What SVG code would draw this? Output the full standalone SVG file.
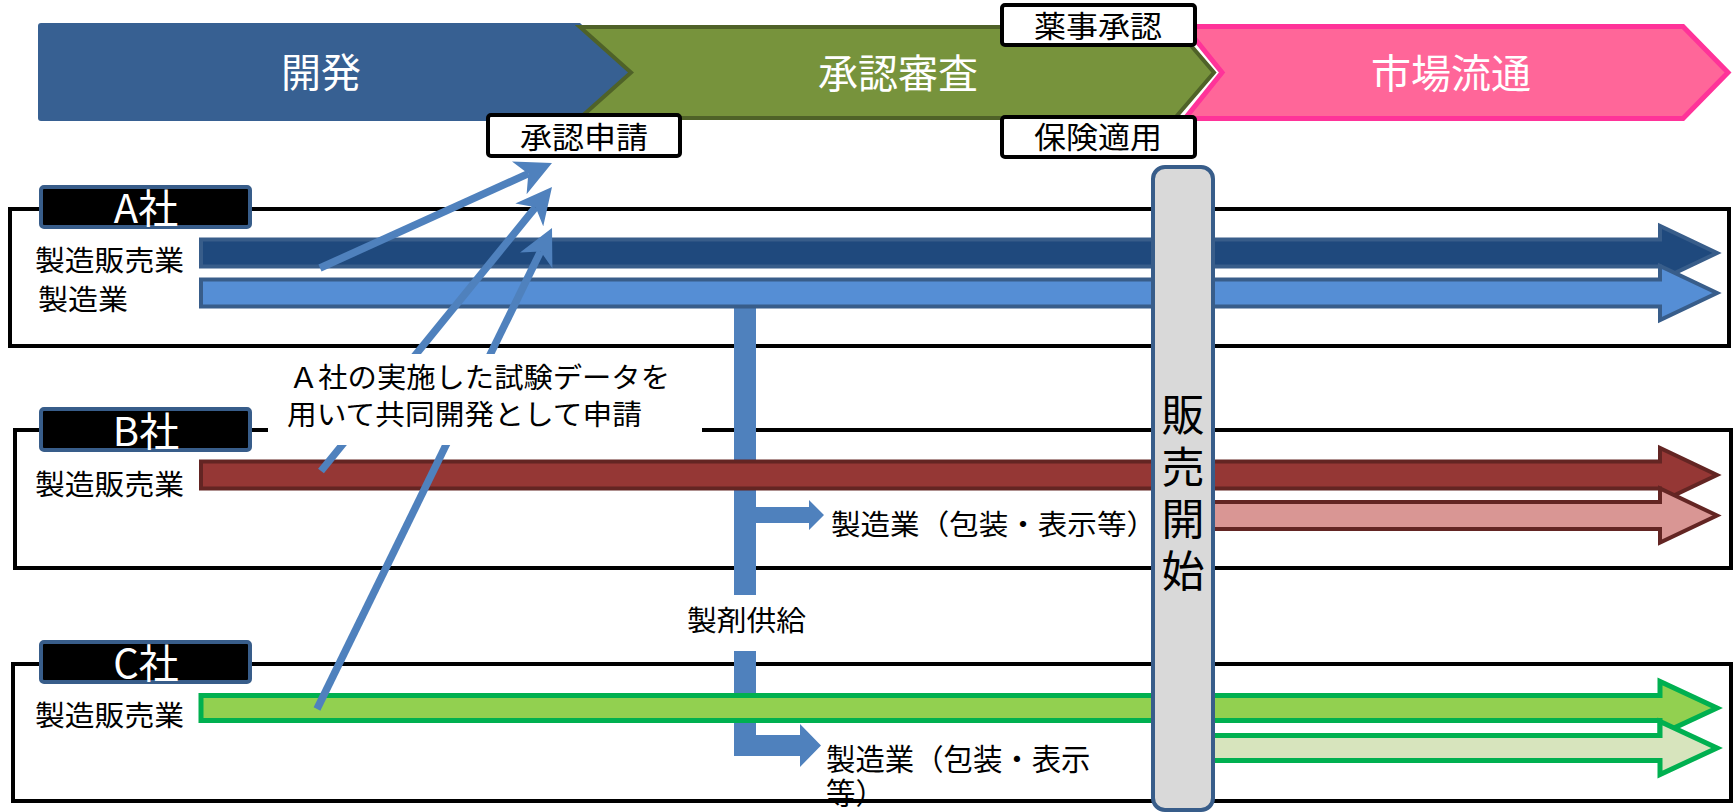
<svg xmlns="http://www.w3.org/2000/svg" width="1736" height="812" viewBox="0 0 1736 812">
<style>
.t{font-family:"Noto Sans CJK JP","Noto Sans",sans-serif;fill:#000}
.tw{font-family:"Liberation Sans","Noto Sans CJK JP",sans-serif;fill:#000}
.hdr{font-size:40px;fill:#fff;text-anchor:middle}
.lbl{font-size:30px;text-anchor:middle}
.co{font-size:40px;fill:#fff;text-anchor:middle}
.b{font-size:28px}
.v{font-size:43px;writing-mode:vertical-rl;letter-spacing:9px}
.cobox{fill:none;stroke:#000;stroke-width:4}
.colbl{fill:#000;stroke:#385d8a;stroke-width:4}
.hbox{fill:#fff;stroke:#000;stroke-width:4}
.diag{stroke:#4f81bd;stroke-width:7.5;fill:none;marker-end:url(#ah)}
.flow{fill:#4f81bd}
</style>
<defs>
<marker id="ah" markerUnits="userSpaceOnUse" viewBox="0 0 36 36" markerWidth="36" markerHeight="36" refX="10" refY="18" orient="auto">
<path d="M0,0 L36,18 L0,36 L10,18 Z" fill="#4f81bd"/>
</marker>
</defs>
<rect width="1736" height="812" fill="#fff"/>

<g id="phase-dev">
<path d="M41,23 L580,23 L632,72 L580,121 L41,121 Q38,121 38,118 L38,26 Q38,23 41,23 Z" fill="#376092"/>
<text class="t hdr" x="321" y="87">開発</text>
</g>
<g id="phase-review">
<polygon points="580,27 1175,27 1214,72.5 1175,118 580,118 631,72.5" fill="#77933c" stroke="#4f6228" stroke-width="4"/>
<text class="t hdr" x="898" y="88">承認審査</text>
</g>
<g id="phase-market">
<polygon points="1185,26.5 1683,26.5 1728,72.5 1683,118.5 1185,118.5 1222,72.5" fill="#ff6699" stroke="#ff3399" stroke-width="5"/>
<text class="t hdr" x="1451" y="88">市場流通</text>
</g>

<g id="company-a">
<rect class="cobox" x="10" y="209" width="1719" height="137"/>
</g>
<g id="company-b">
<rect class="cobox" x="15" y="430" width="1716" height="138"/>
</g>
<g id="company-c">
<rect class="cobox" x="13" y="664" width="1718" height="137"/>
</g>

<g id="flow-supply">
<polygon class="flow" points="734,300 756,300 756,507 809,507 809,500 824,515 809,530 809,523 756,523 756,595 734,595"/>
<polygon class="flow" points="734,651 756,651 756,735 800,735 800,724 821,745.5 800,767 800,756 734,756"/>
</g>

<g id="arrows-a">
<polygon points="201,239.5 1660,239.5 1660,226 1717,253 1660,280 1660,266.5 201,266.5" fill="#1f497d" stroke="#385d8a" stroke-width="4"/>
<polygon points="201,279.5 1660,279.5 1660,266 1717,293 1660,320 1660,306.5 201,306.5" fill="#558ed5" stroke="#385d8a" stroke-width="4"/>
</g>
<g id="arrows-b">
<polygon points="201,461.5 1660,461.5 1660,448 1717,475 1660,502 1660,488.5 201,488.5" fill="#953735" stroke="#632523" stroke-width="4"/>
<polygon points="1200,502 1660,502 1660,488.5 1717,515.5 1660,542.5 1660,529 1200,529" fill="#d99694" stroke="#632523" stroke-width="4"/>
</g>
<g id="arrows-c">
<polygon points="201,695.5 1660,695.5 1660,681.5 1717,708 1660,734.5 1660,720.5 201,720.5" fill="#92d050" stroke="#00b050" stroke-width="5"/>
<polygon points="1200,735.5 1660,735.5 1660,721.5 1717,748 1660,774.5 1660,760.5 1200,760.5" fill="#d7e4bd" stroke="#00b050" stroke-width="5"/>
</g>

<g id="connectors">
<line class="diag" x1="320" y1="268" x2="528.3" y2="173.7"/>
<line class="diag" x1="321" y1="471" x2="535.6" y2="207.2"/>
<line class="diag" x1="317" y1="709" x2="540.6" y2="251.4"/>
</g>

<g id="note">
<rect x="268" y="354" width="434" height="91" fill="#fff"/>
<text class="t b" x="289" y="388" textLength="381" lengthAdjust="spacingAndGlyphs">Ａ社の実施した試験データを</text>
<text class="t b" x="287" y="425" textLength="355" lengthAdjust="spacingAndGlyphs">用いて共同開発として申請</text>
</g>

<g id="label-a">
<rect class="colbl" x="41" y="187" width="209" height="40" rx="3"/>
<text class="t co" x="146" y="223">A社</text>
<text class="t b" x="35" y="271" textLength="149" lengthAdjust="spacingAndGlyphs">製造販売業</text>
<text class="t b" x="38" y="310" textLength="90" lengthAdjust="spacingAndGlyphs">製造業</text>
</g>
<g id="label-b">
<rect class="colbl" x="41" y="409" width="209" height="41" rx="3"/>
<text class="t co" x="146" y="446">B社</text>
<text class="t b" x="35" y="495" textLength="149" lengthAdjust="spacingAndGlyphs">製造販売業</text>
</g>
<g id="label-c">
<rect class="colbl" x="41" y="642" width="209" height="40" rx="3"/>
<text class="t co" x="146" y="678">C社</text>
<text class="t b" x="35" y="726" textLength="149" lengthAdjust="spacingAndGlyphs">製造販売業</text>
</g>

<g id="supply-labels">
<text class="t b" x="687" y="631" textLength="119" lengthAdjust="spacingAndGlyphs">製剤供給</text>
<text class="t b" x="831" y="535" textLength="325" lengthAdjust="spacingAndGlyphs">製造業（包装・表示等）</text>
<text class="tw" font-size="29.4" x="826" y="770">製造業（包装・表示<tspan x="826" dy="34">等）</tspan></text>
</g>

<g id="box-application">
<rect class="hbox" x="488" y="115" width="192" height="41" rx="3"/>
<text class="t lbl" x="584" y="148" textLength="128" lengthAdjust="spacingAndGlyphs">承認申請</text>
</g>
<g id="box-approval">
<rect class="hbox" x="1002" y="5" width="193" height="40" rx="3"/>
<text class="t lbl" x="1098" y="37" textLength="128" lengthAdjust="spacingAndGlyphs">薬事承認</text>
</g>
<g id="box-insurance">
<rect class="hbox" x="1002" y="117" width="193" height="40" rx="3"/>
<text class="t lbl" x="1098" y="148" textLength="128" lengthAdjust="spacingAndGlyphs">保険適用</text>
</g>

<g id="launch">
<rect x="1153" y="167" width="60" height="643" rx="12" fill="#d9d9d9" stroke="#385d8a" stroke-width="4"/>
<text class="t v" x="1183" y="393">販売開始</text>
</g>
</svg>
